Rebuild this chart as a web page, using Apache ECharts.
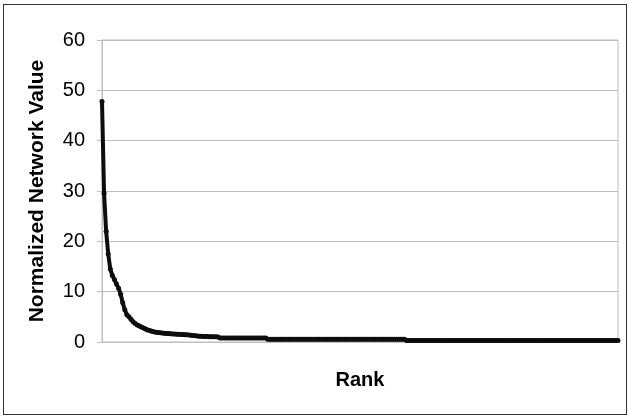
<!DOCTYPE html>
<html>
<head>
<meta charset="utf-8">
<script src="https://cdn.jsdelivr.net/npm/echarts@6/dist/echarts.min.js"></script>
<style>
  html, body { margin: 0; padding: 0; background: #fff; }
  #wrap { position: relative; width: 629px; height: 418px; }
  #frame { position: absolute; left: 3px; top: 4px; width: 624px; height: 411px; border: 1px solid #333; box-sizing: border-box; }
  #chart { position: absolute; left: 0; top: 0; width: 629px; height: 418px; }
</style>
</head>
<body>
<div id="wrap">
  <div id="frame"></div>
  <div id="chart"></div>
</div>
<script>
// Values (normalized network value, sorted by rank)
const headValues = [
  47.8, 29.5, 22.0, 17.5, 14.5, 13.2, 12.4, 11.5, 10.7, 9.5,
  7.8, 6.4, 5.4, 5.0, 4.5, 4.0, 3.7, 3.4, 3.2, 3.0,
  2.8, 2.6, 2.4, 2.3, 2.15, 2.05, 1.95, 1.9, 1.85, 1.8,
  1.75, 1.7, 1.68, 1.65, 1.6, 1.58, 1.55, 1.52, 1.5, 1.48,
  1.45, 1.42, 1.4, 1.35, 1.3, 1.25, 1.2, 1.15, 1.12, 1.1,
  1.1, 1.08, 1.06, 1.05, 1.04, 1.02, 1.0
];
const tierA = [
  0.8, 0.8, 0.8, 0.8, 0.8, 0.8, 0.8, 0.8, 0.8, 0.8,
  0.8, 0.8, 0.8, 0.8, 0.8, 0.8, 0.8, 0.8, 0.8, 0.8,
  0.8, 0.8, 0.8
];
const tierB = [
  0.56, 0.56, 0.56, 0.56, 0.56, 0.56, 0.56, 0.56, 0.56, 0.56,
  0.56, 0.56, 0.56, 0.56, 0.56, 0.56, 0.56, 0.56, 0.56, 0.56,
  0.56, 0.56, 0.56, 0.56, 0.56, 0.56, 0.56, 0.56, 0.56, 0.56,
  0.56, 0.56, 0.56, 0.56, 0.56, 0.56, 0.56, 0.56, 0.56, 0.56,
  0.56, 0.56, 0.56, 0.56, 0.56, 0.56, 0.56, 0.56, 0.56, 0.56,
  0.56, 0.56, 0.56, 0.56, 0.56, 0.56, 0.56, 0.56, 0.56, 0.56,
  0.56, 0.56, 0.56, 0.56, 0.56, 0.56, 0.56
];
const tierC = [
  0.3, 0.3, 0.3, 0.3, 0.3, 0.3, 0.3, 0.3, 0.3, 0.3,
  0.3, 0.3, 0.3, 0.3, 0.3, 0.3, 0.3, 0.3, 0.3, 0.3,
  0.3, 0.3, 0.3, 0.3, 0.3, 0.3, 0.3, 0.3, 0.3, 0.3,
  0.3, 0.3, 0.3, 0.3, 0.3, 0.3, 0.3, 0.3, 0.3, 0.3,
  0.3, 0.3, 0.3, 0.3, 0.3, 0.3, 0.3, 0.3, 0.3, 0.3,
  0.3, 0.3, 0.3, 0.3, 0.3, 0.3, 0.3, 0.3, 0.3, 0.3,
  0.3, 0.3, 0.3, 0.3, 0.3, 0.3, 0.3, 0.3, 0.3, 0.3,
  0.3, 0.3, 0.3, 0.3, 0.3, 0.3, 0.3, 0.3, 0.3, 0.3,
  0.3, 0.3, 0.3, 0.3, 0.3, 0.3, 0.3, 0.3, 0.3, 0.3,
  0.3, 0.3, 0.3, 0.3, 0.3, 0.3, 0.3, 0.3, 0.3, 0.3,
  0.3, 0.3, 0.3
];
const values = headValues.concat(tierA, tierB, tierC);
const ranks = values.map((v, i) => String(i + 1));
const yTicks = [0, 10, 20, 30, 40, 50, 60];
const xTitle = 'Rank';
const yTitle = 'Normalized Network Value';

const chart = echarts.init(document.getElementById('chart'), null, { renderer: 'canvas' });
const gray = '#bfbfbf';
const font = 'Liberation Sans, Arial, sans-serif';
chart.setOption({
  animation: false,
  grid: { left: 102, right: 11, top: 40, bottom: 76, show: true, borderColor: gray, borderWidth: 1 },
  xAxis: {
    type: 'category',
    data: ranks,
    boundaryGap: false,
    axisLine: { show: true, lineStyle: { color: gray, width: 1 } },
    axisTick: { show: false },
    axisLabel: { show: false },
    splitLine: { show: false },
    name: xTitle,
    nameLocation: 'middle',
    nameGap: 28,
    nameTextStyle: { fontFamily: font, fontWeight: 'bold', fontSize: 20, color: '#000' }
  },
  yAxis: {
    type: 'value',
    min: yTicks[0],
    max: yTicks[yTicks.length - 1],
    interval: 10,
    axisLine: { show: true, lineStyle: { color: gray, width: 1 } },
    axisTick: { show: true, length: 5, lineStyle: { color: gray } },
    axisLabel: { fontFamily: font, fontSize: 20, color: '#000', margin: 17 },
    splitLine: { show: true, lineStyle: { color: gray, width: 1 } },
    name: yTitle,
    nameLocation: 'middle',
    nameGap: 54,
    nameTextStyle: { fontFamily: font, fontWeight: 'bold', fontSize: 21, color: '#000' }
  },
  series: [{
    type: 'line',
    data: values,
    symbol: 'circle',
    symbolSize: 5,
    showAllSymbol: true,
    lineStyle: { color: '#0d0d0d', width: 4 },
    itemStyle: { color: '#0d0d0d' }
  }]
});
</script>
</body>
</html>
